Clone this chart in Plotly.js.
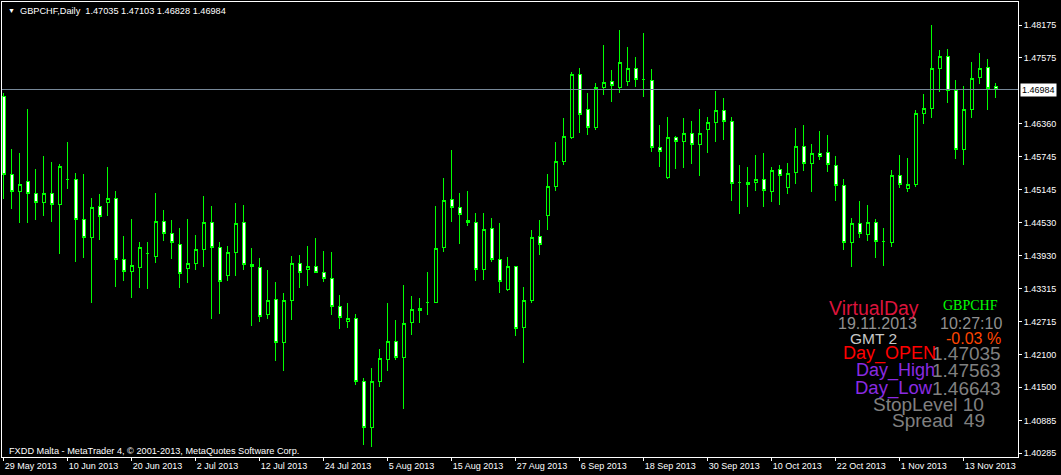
<!DOCTYPE html>
<html>
<head>
<meta charset="utf-8">
<script src="https://cdn.plot.ly/plotly-3.0.1.min.js"></script>
<style>
html,body{margin:0;padding:0;background:#000;}
#chart{width:1061px;height:475px;}
#chart .boxlayer path{shape-rendering:crispEdges !important;}
#chart .shapelayer path{shape-rendering:crispEdges !important;}
</style>
</head>
<body>
<div id="chart"></div>
<script>
// ---- data (GBPCHF daily) ----
const dates = [
"2013-05-29","2013-05-30","2013-05-31",
"2013-06-03","2013-06-04","2013-06-05","2013-06-06","2013-06-07","2013-06-10","2013-06-11","2013-06-12","2013-06-13","2013-06-14",
"2013-06-17","2013-06-18","2013-06-19","2013-06-20","2013-06-21","2013-06-24","2013-06-25","2013-06-26","2013-06-27","2013-06-28",
"2013-07-01","2013-07-02","2013-07-03","2013-07-04","2013-07-05","2013-07-08","2013-07-09","2013-07-10","2013-07-11","2013-07-12",
"2013-07-15","2013-07-16","2013-07-17","2013-07-18","2013-07-19","2013-07-22","2013-07-23","2013-07-24","2013-07-25","2013-07-26",
"2013-07-29","2013-07-30","2013-07-31",
"2013-08-01","2013-08-02","2013-08-05","2013-08-06","2013-08-07","2013-08-08","2013-08-09","2013-08-12","2013-08-13","2013-08-14",
"2013-08-15","2013-08-16","2013-08-19","2013-08-20","2013-08-21","2013-08-22","2013-08-23","2013-08-26","2013-08-27","2013-08-28",
"2013-08-29","2013-08-30",
"2013-09-02","2013-09-03","2013-09-04","2013-09-05","2013-09-06","2013-09-09","2013-09-10","2013-09-11","2013-09-12","2013-09-13",
"2013-09-16","2013-09-17","2013-09-18","2013-09-19","2013-09-20","2013-09-23","2013-09-24","2013-09-25","2013-09-26","2013-09-27",
"2013-09-30",
"2013-10-01","2013-10-02","2013-10-03","2013-10-04","2013-10-07","2013-10-08","2013-10-09","2013-10-10","2013-10-11","2013-10-14",
"2013-10-15","2013-10-16","2013-10-17","2013-10-18","2013-10-21","2013-10-22","2013-10-23","2013-10-24","2013-10-25","2013-10-28",
"2013-10-29","2013-10-30","2013-10-31",
"2013-11-01","2013-11-04","2013-11-05","2013-11-06","2013-11-07","2013-11-08","2013-11-11","2013-11-12","2013-11-13","2013-11-14",
"2013-11-15","2013-11-18","2013-11-19"
];
const open = [
1.46867,1.45425,1.45104,1.45296,1.45074,1.44901,1.45074,1.44864,1.45323,1.45332,
1.44595,1.44264,1.44835,1.44909,1.44982,1.43859,1.43637,1.43711,1.43962,1.43914,
1.44559,1.44338,1.44135,1.43693,1.43785,1.44043,1.44540,1.44080,1.43564,1.43987,
1.44540,1.43766,1.43711,1.42845,1.43122,1.42329,1.43103,1.43785,1.43674,1.43730,
1.43619,1.43508,1.42993,1.42716,1.42772,1.41611,1.40764,1.41611,1.42016,1.42348,
1.42053,1.42698,1.42919,1.43059,1.43066,1.44072,1.44964,1.44817,1.44577,1.44540,
1.43674,1.44430,1.43859,1.43298,1.43730,1.42606,1.43103,1.44282,1.44662,1.45196,
1.45657,1.46099,1.47267,1.46622,1.46283,1.47020,1.47138,1.47020,1.47130,1.47377,
1.47175,1.47156,1.45922,1.45362,1.46106,1.46032,1.46180,1.45977,1.46253,1.46382,
1.46603,1.46401,1.45277,1.45277,1.45277,1.45332,1.45104,1.45517,1.45178,1.45461,
1.45940,1.45627,1.45811,1.45830,1.45590,1.45222,1.44172,1.44522,1.44319,1.44540,
1.44183,1.44172,1.45406,1.45159,1.45233,1.46541,1.46633,1.47377,1.47598,1.46972,
1.45878,1.46615,1.47204,1.47396,1.47035
];
const high = [
1.46917,1.45891,1.45817,1.46628,1.45522,1.45762,1.45651,1.45614,1.46020,1.45448,
1.45430,1.44988,1.45061,1.45559,1.45117,1.44288,1.44601,1.44177,1.44177,1.45080,
1.44767,1.44583,1.44435,1.44601,1.44306,1.45025,1.44840,1.44177,1.44104,1.44896,
1.44859,1.44067,1.43882,1.43661,1.43440,1.43238,1.43919,1.43938,1.44104,1.44251,
1.44011,1.43993,1.43201,1.43048,1.42851,1.41666,1.41850,1.42206,1.43048,1.42735,
1.43380,1.43182,1.43140,1.43624,1.44835,1.45356,1.45872,1.45074,1.45111,1.44706,
1.44706,1.44614,1.44522,1.43895,1.43740,1.43343,1.44398,1.44577,1.45430,1.46020,
1.46462,1.47304,1.47377,1.46922,1.47101,1.47807,1.47340,1.48083,1.47770,1.47586,
1.48028,1.47359,1.46327,1.46475,1.46125,1.46456,1.46401,1.46622,1.46475,1.46965,
1.46825,1.46475,1.45596,1.45559,1.45780,1.45817,1.45553,1.45590,1.45627,1.46277,
1.46333,1.45983,1.46222,1.46148,1.45762,1.45338,1.44619,1.44933,1.44859,1.44595,
1.44441,1.45498,1.45780,1.45719,1.46603,1.46904,1.48175,1.47714,1.47733,1.47162,
1.47051,1.47493,1.47659,1.47549,1.47103
];
const low = [
1.44964,1.44785,1.44533,1.44533,1.44588,1.44662,1.44551,1.43962,1.45159,1.43814,
1.43888,1.43059,1.44220,1.44662,1.43354,1.43464,1.43151,1.43335,1.43317,1.43796,
1.44201,1.43870,1.43335,1.43427,1.43667,1.43722,1.42764,1.42856,1.43464,1.43556,
1.43667,1.42635,1.42709,1.42764,1.41990,1.41806,1.42746,1.43335,1.43372,1.43610,
1.43446,1.42838,1.42580,1.42598,1.41548,1.40437,1.40406,1.41511,1.41806,1.42009,
1.41106,1.42469,1.42690,1.42838,1.43048,1.43999,1.44551,1.44146,1.44478,1.43464,
1.43483,1.43814,1.43243,1.43280,1.42451,1.41954,1.43059,1.43938,1.44398,1.45117,
1.45596,1.46080,1.46191,1.46154,1.46246,1.46891,1.46762,1.46928,1.47057,1.47038,
1.46854,1.45841,1.45564,1.45343,1.45528,1.45546,1.45620,1.45399,1.45822,1.46025,
1.46062,1.44938,1.44699,1.44828,1.45122,1.44828,1.44920,1.44864,1.45067,1.45251,
1.45491,1.45104,1.45693,1.45472,1.44938,1.44035,1.43722,1.44256,1.44201,1.43888,
1.43741,1.44091,1.45163,1.45104,1.45196,1.46357,1.46467,1.46946,1.46744,1.45712,
1.45601,1.46467,1.47094,1.46609,1.46828
];
const close = [
1.45425,1.45104,1.45240,1.45067,1.44901,1.45074,1.44864,1.45572,1.45323,1.44595,
1.44264,1.44817,1.44651,1.44982,1.43859,1.43637,1.43748,1.44080,1.43962,1.44559,
1.44338,1.44168,1.43601,1.43785,1.44043,1.44540,1.44080,1.43453,1.43987,1.44522,
1.43766,1.43730,1.42808,1.43103,1.42329,1.43103,1.43785,1.43619,1.43730,1.43619,
1.43508,1.42993,1.42790,1.42772,1.41611,1.40764,1.41611,1.42035,1.42348,1.42053,
1.42679,1.42937,1.42956,1.43059,1.44061,1.44946,1.44817,1.44688,1.44540,1.43674,
1.44411,1.43859,1.43453,1.43730,1.42587,1.43103,1.44264,1.44131,1.45203,1.45664,
1.46125,1.47267,1.46522,1.46283,1.47027,1.47119,1.47064,1.47488,1.47377,1.47167,
1.47175,1.45915,1.45848,1.46106,1.46032,1.46180,1.45977,1.46180,1.46382,1.46603,
1.46397,1.45251,1.45277,1.45233,1.45332,1.45130,1.45498,1.45406,1.45443,1.45940,
1.45627,1.45811,1.45756,1.45609,1.45222,1.44172,1.44522,1.44338,1.44540,1.44190,
1.44183,1.45406,1.45237,1.45240,1.46548,1.46640,1.47377,1.47598,1.46972,1.45878,
1.46622,1.47193,1.47377,1.47009,1.46984
];
const xTickDates = ["2013-05-29","2013-06-10","2013-06-20","2013-07-02","2013-07-12","2013-07-24","2013-08-05","2013-08-15",
  "2013-08-27","2013-09-06","2013-09-18","2013-09-30","2013-10-10","2013-10-22","2013-11-01","2013-11-13"];
const xTickLabels = ["29 May 2013","10 Jun 2013","20 Jun 2013","2 Jul 2013","12 Jul 2013","24 Jul 2013","5 Aug 2013","15 Aug 2013",
  "27 Aug 2013","6 Sep 2013","18 Sep 2013","30 Sep 2013","10 Oct 2013","22 Oct 2013","1 Nov 2013","13 Nov 2013"];
const yTickValues = [1.48175,1.47575,1.46360,1.45745,1.45145,1.44530,1.43930,1.43315,1.42715,1.42100,1.41500,1.40885,1.40285];
const yTickLabels = ["1.48175","1.47575","1.46360","1.45745","1.45145","1.44530","1.43930","1.43315","1.42715","1.42100","1.41500","1.40885","1.40285"];
const bidPrice = 1.46984;
const headerText = "GBPCHF,Daily  1.47035 1.47103 1.46828 1.46984";
const footerText = "FXDD Malta - MetaTrader 4, © 2001-2013, MetaQuotes Software Corp.";

// ---- layout helpers (pixel -> paper) ----
const L = 2, R = 1018, T = 2, B = 457;
const W = R - L, H = B - T;
function px(x){ return (x - L) / W; }
function py(y){ return (B - y) / H; }
const sans = "Liberation Sans, Arial, sans-serif";
function ann(text, x, y, color, size, family, xanchor){
  return {xref:'paper', yref:'paper', x:px(x), y:py(y), xanchor:xanchor||'left', yanchor:'middle',
    text:text, showarrow:false, font:{color:color, size:size, family:family||sans}};
}

const trace = {
  type:'candlestick', x:dates, open:open, high:high, low:low, close:close,
  increasing:{line:{color:'#00ff00', width:1}, fillcolor:'#000000'},
  decreasing:{line:{color:'#00ff00', width:1}, fillcolor:'#ffffff'},
  whiskerwidth:0, hoverinfo:'skip', showlegend:false
};

const layout = {
  width:1061, height:475,
  paper_bgcolor:'#000', plot_bgcolor:'#000',
  margin:{l:L, r:1061-R, t:T, b:475-B, pad:0},
  boxgap:0.4,
  showlegend:false,
  font:{family:sans, size:9, color:'#fff'},
  xaxis:{type:'category', range:[-0.2125, -0.2125 + W/8], rangeslider:{visible:false},
    showgrid:false, zeroline:false, showline:true, mirror:true, linecolor:'#fff', linewidth:1,
    ticks:'outside', ticklen:3, tickcolor:'#fff', tickwidth:1,
    tickmode:'array', tickvals:xTickDates, ticktext:xTickLabels,
    ticklabelposition:'outside right', tickfont:{family:sans, size:9, color:'#fff'}, fixedrange:true},
  yaxis:{side:'right', range:[1.40216, 1.48599], showgrid:false, zeroline:false,
    showline:true, mirror:true, linecolor:'#fff', linewidth:1,
    ticks:'outside', ticklen:3, tickcolor:'#fff', tickwidth:1,
    tickmode:'array', tickvals:yTickValues, ticktext:yTickLabels,
    tickfont:{family:sans, size:9, color:'#fff'}, fixedrange:true},
  shapes:[
    {type:'line', xref:'paper', yref:'y', x0:0, x1:1, y0:bidPrice, y1:bidPrice, line:{color:'#778899', width:1}}
  ],
  annotations:[
    {xref:'paper', yref:'y', x:px(1020), y:bidPrice, xanchor:'left', yanchor:'middle', text:bidPrice.toFixed(5),
      showarrow:false, bgcolor:'#fff', borderpad:1, font:{color:'#000', size:9, family:sans}},
    ann('▼', 6, 10.5, '#fff', 7),
    ann(headerText, 17.5, 10.5, '#fff', 9.2),
    ann(footerText, 7, 450.5, '#fff', 9.2),
    ann('GBPCHF', 941, 305.5, '#00ff00', 14, 'Liberation Serif, Times New Roman, serif'),
    ann('19.11.2013', 835.5, 323.5, '#909090', 16),
    ann('10:27:10', 938, 323.5, '#909090', 16),
    ann('GMT 2', 848, 338, '#c8c8c8', 15.5),
    ann('-0.03 %', 943.5, 338, '#ff4500', 16),
    ann('1.47035', 929.5, 353, '#808080', 19),
    ann('1.47563', 929.5, 370, '#808080', 19),
    ann('1.46643', 929.5, 388, '#808080', 19),
    ann('VirtualDay', 826.5, 307.5, '#dc143c', 19.5),
    ann('Day_OPEN', 841, 353, '#ff0000', 18),
    ann('Day_High', 854, 370, '#8a2be2', 18),
    ann('Day_Low', 852.5, 388, '#8a2be2', 18.5),
    ann('StopLevel 10', 871, 404.5, '#808080', 19),
    ann('Spread\u00a0\u00a049', 889.5, 420, '#808080', 19)
  ]
};

Plotly.newPlot('chart', [trace], layout, {staticPlot:true, displayModeBar:false});
</script>
</body>
</html>
